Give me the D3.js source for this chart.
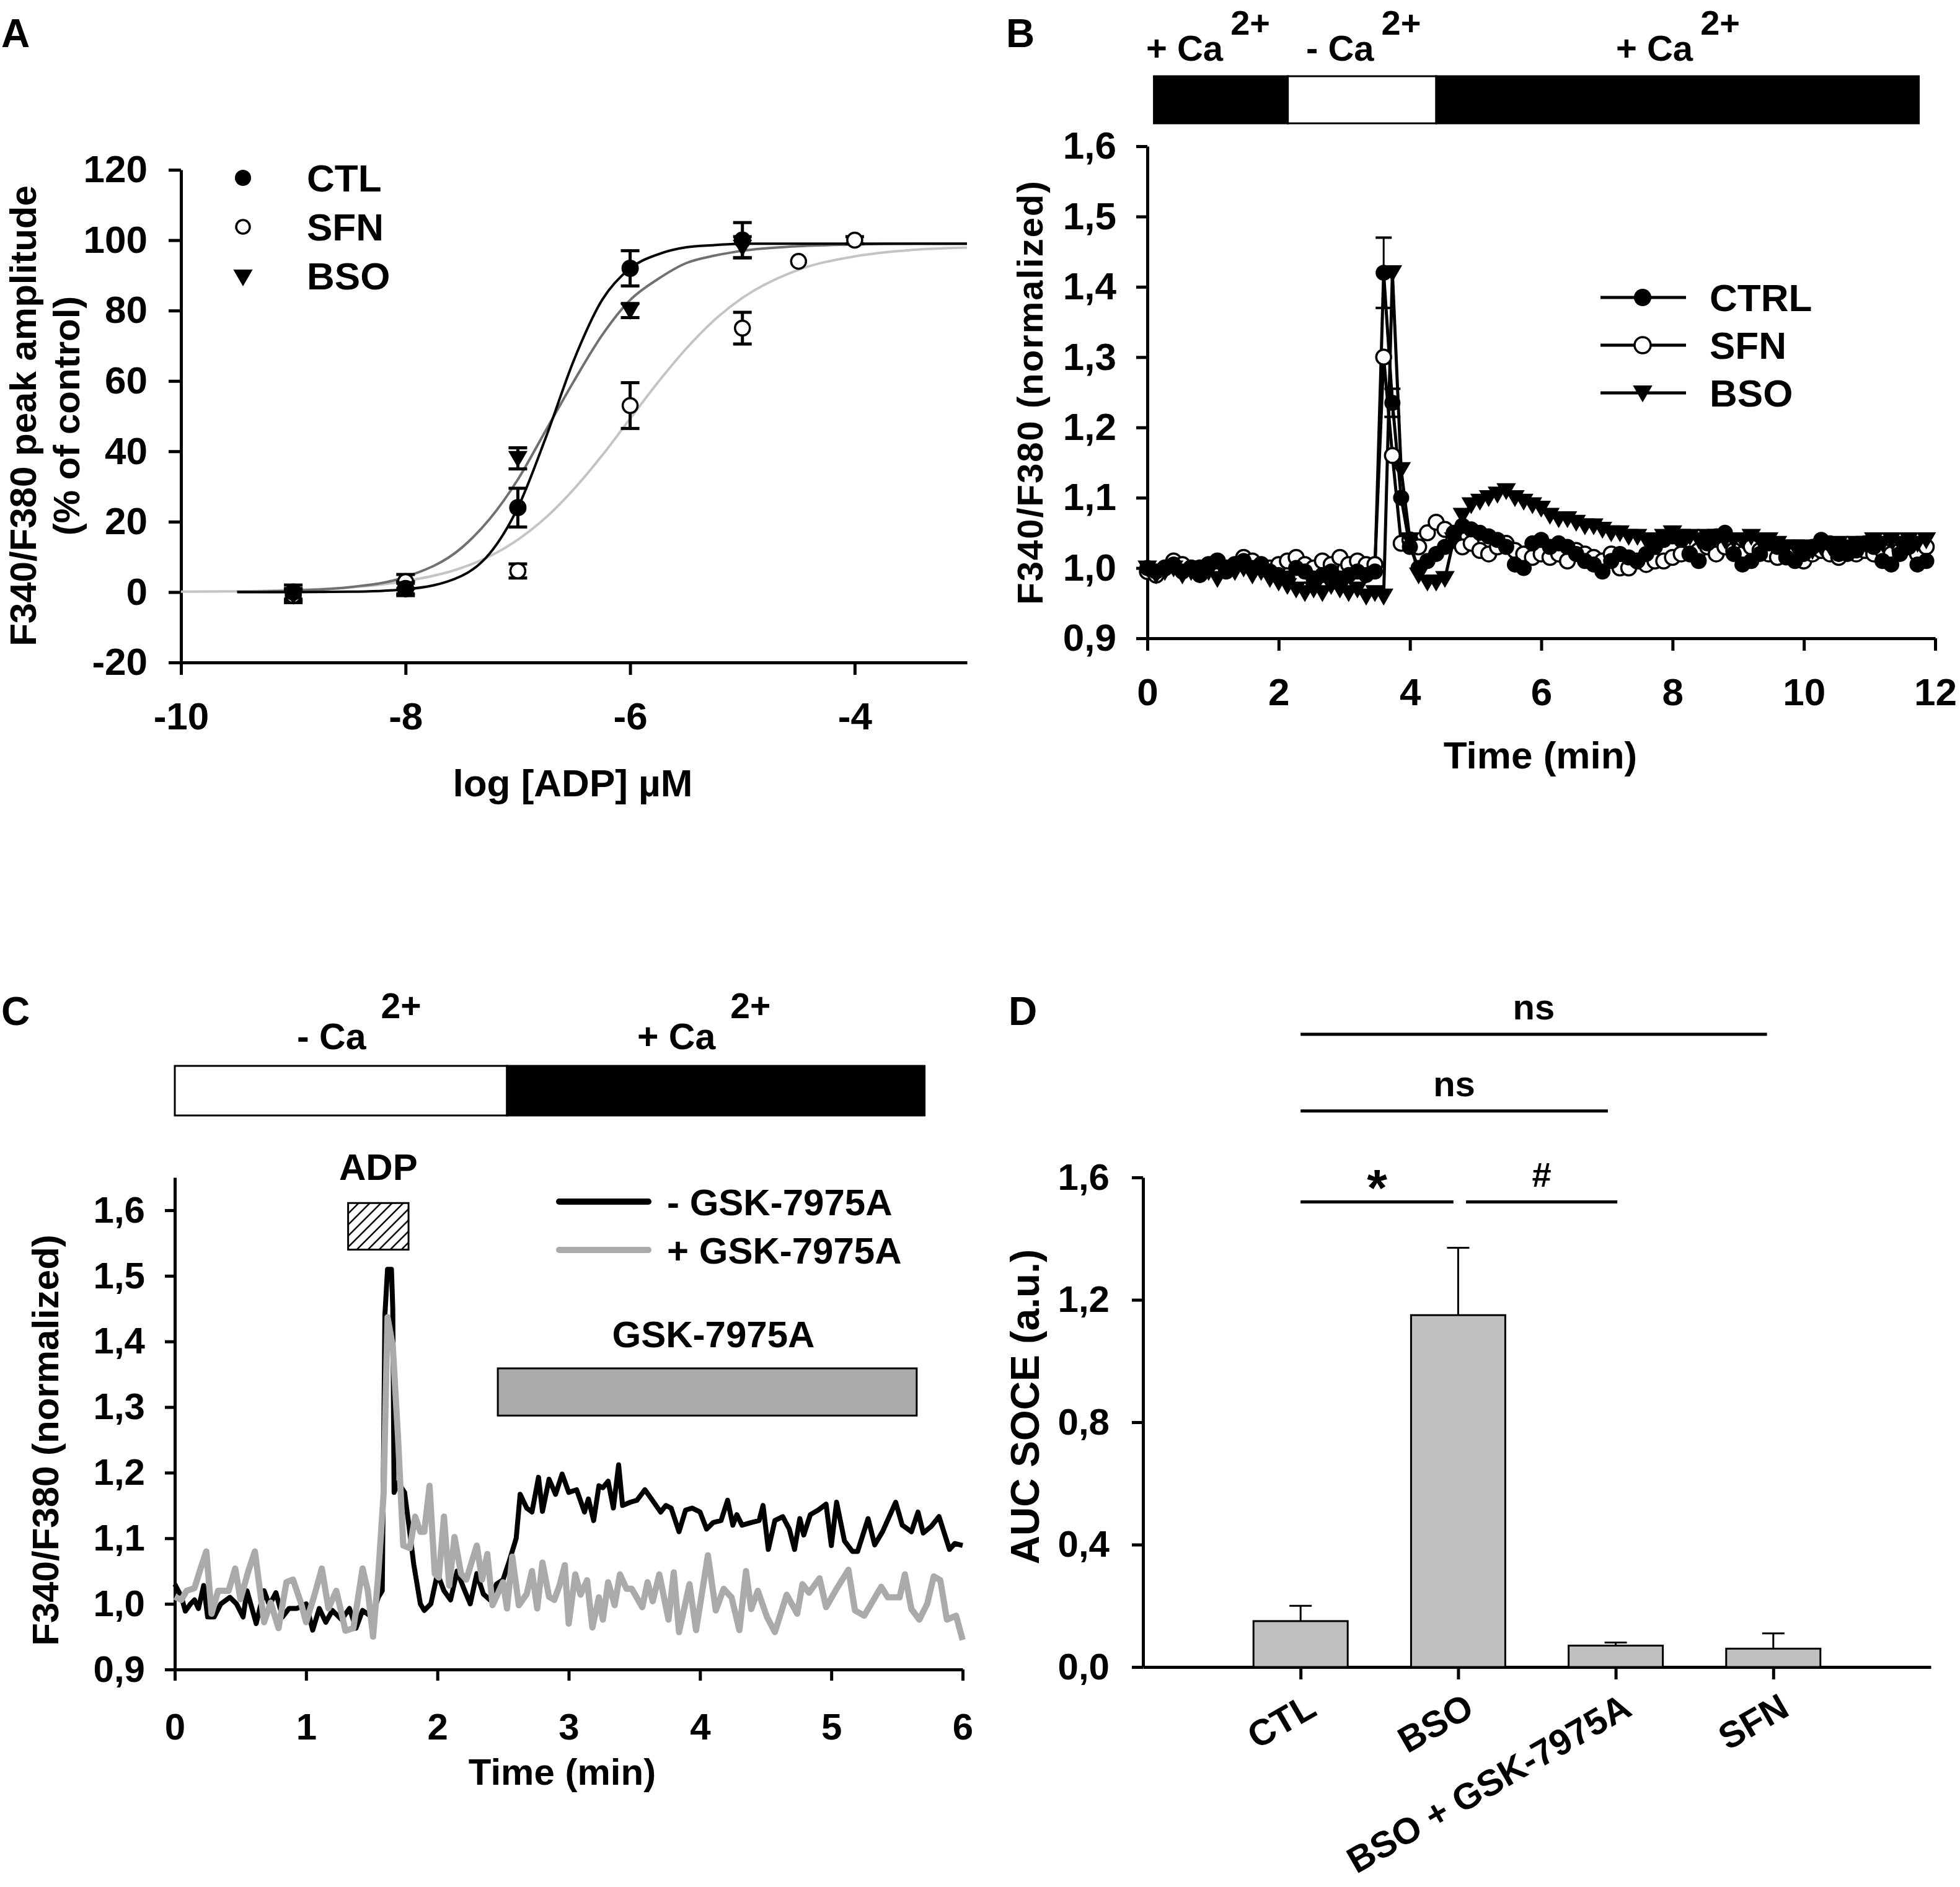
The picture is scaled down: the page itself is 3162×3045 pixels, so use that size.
<!DOCTYPE html>
<html>
<head>
<meta charset="utf-8">
<script src="https://cdn.jsdelivr.net/npm/d3@7"></script>
<style>
body { margin: 0; background: #fff; }
svg text { font-family: "Liberation Sans", Arial, Helvetica, sans-serif; font-weight: bold; fill: #000; }
</style>
</head>
<body>
<svg id="fig" width="3162" height="3045"></svg>
<script>
// ---------------- data ----------------
// A: dose response (log [ADP])
var doseLog = [-9, -8, -7, -6, -5];
var ctlMean = [0, 1, 24, 92, 100];
var ctlErr  = [2, 1.5, 5.5, 5, 5];
var bsoMean = [-1, 1, 38, 80, 98];
var bsoErr  = [2, 2, 3, 2, 3];
var sfnDose = [-9, -8, -7, -6, -5, -4.5, -4];
var sfnMean = [-1, 3, 6, 53, 75, 94, 100];
var sfnErr  = [1.5, 2, 2, 6.5, 4.5, 0, 1];

// A: fitted curves
var fitLog = [-10, -9.5, -9, -8.5, -8, -7.5, -7.25, -7, -6.75, -6.5, -6.25, -6, -5.75, -5.5, -5.25, -5, -4.5, -4, -3.5, -3];
var ctlFit = [null, 0, 0, 0.1, 0.8, 4.6, 11, 24, 44, 66, 83, 92, 96, 98, 98.6, 99, 99, 99, 99, 99];
var bsoFit = [null, 0.1, 0.4, 1.4, 4.3, 12.6, 20.8, 32, 46, 60, 73, 83, 89, 93.5, 95.6, 97, 98.3, 98.8, 99, 99];
var sfnFit = [0.1, 0.2, 0.6, 1.3, 3.1, 6.9, 10.2, 14.9, 21.2, 29.3, 38.8, 49.3, 59.7, 69.2, 77.3, 83.6, 91.6, 95.4, 97.2, 97.9];

// B: traces sampled every 8 s (0.1333 min)
var bStep = 0.1333;
var bCtrl = [1.0, 0.995, 1.0, 1.005, 0.995, 1.0, 0.99, 1.005, 1.01, 0.995, 1.005, 1.01, 1.0, 1.005, 0.995, 0.99, 0.985, 1.0, 0.995, 0.985, 0.99, 0.995, 0.985, 0.99, 0.995, 0.99, 0.995,
  1.42, 1.235, 1.10, 1.03, 1.0, 1.01, 1.02, 1.03, 1.05, 1.06, 1.055, 1.05, 1.045, 1.04, 1.03, 1.005, 1.0, 1.035, 1.04, 1.03, 1.035, 1.03, 1.02, 1.01, 1.005, 0.995, 1.01, 1.02, 1.015, 1.01, 1.02, 1.03, 1.04, 1.045, 1.04, 1.02, 1.01, 1.035, 1.045, 1.05, 1.02, 1.005, 1.01, 1.02, 1.035, 1.03, 1.015, 1.01, 1.02, 1.03, 1.04, 1.035, 1.02, 1.02, 1.025, 1.035, 1.03, 1.01, 1.005, 1.02, 1.03, 1.005, 1.01];
var bSfn = [0.995, 0.99, 1.0, 1.01, 1.005, 1.0, 1.0, 1.005, 1.01, 1.0, 1.005, 1.015, 1.01, 1.005, 1.0, 1.005, 1.01, 1.015, 1.005, 1.0, 1.01, 1.005, 1.015, 1.005, 1.01, 1.005, 1.005,
  1.30, 1.16, 1.035, 1.04, 1.03, 1.05, 1.065, 1.055, 1.04, 1.03, 1.035, 1.025, 1.02, 1.03, 1.035, 1.025, 1.02, 1.015, 1.02, 1.015, 1.02, 1.01, 1.025, 1.02, 1.015, 1.01, 1.02, 1.0, 1.0, 1.01, 1.005, 1.01, 1.01, 1.015, 1.02, 1.02, 1.025, 1.03, 1.02, 1.03, 1.025, 1.02, 1.03, 1.025, 1.02, 1.015, 1.025, 1.02, 1.01, 1.02, 1.025, 1.02, 1.015, 1.025, 1.02, 1.025, 1.02, 1.025, 1.02, 1.025, 1.03, 1.02, 1.03];
var bBso = [1.0, 0.99, 0.995, 1.0, 0.99, 0.995, 1.0, 0.995, 0.985, 1.0, 0.995, 1.0, 0.99, 0.995, 0.985, 0.98, 0.975, 0.97, 0.965, 0.97, 0.965, 0.975, 0.97, 0.965, 0.97, 0.96, 0.965,
  0.96, 1.42, 1.14, 1.04, 0.99, 0.98, 0.98, 0.985, 1.04, 1.075, 1.09, 1.095, 1.1, 1.105, 1.11, 1.1, 1.095, 1.09, 1.085, 1.075, 1.07, 1.07, 1.065, 1.06, 1.06, 1.055, 1.05, 1.05, 1.045, 1.045, 1.04, 1.04, 1.045, 1.05, 1.045, 1.045, 1.04, 1.045, 1.045, 1.04, 1.04, 1.04, 1.045, 1.04, 1.04, 1.035, 1.03, 1.03, 1.03, 1.025, 1.03, 1.03, 1.035, 1.03, 1.035, 1.035, 1.04, 1.035, 1.04, 1.035, 1.04, 1.035, 1.04];
var bErrIndex = [27, 28];
var bCtrlErr = [0.05, 0.02];
// B: perfusion bar (min)
var bBarFrom = [0.1, 2.14, 4.4];
var bBarTo   = [2.14, 4.4, 11.75];
var bBarCa   = ['+', '-', '+'];

// C: traces [min, ratio]
var cMinusGsk = [[0,1.03],[0.05,1.011],[0.08,0.989],[0.12,1.0],[0.15,1.006],[0.18,0.993],[0.22,1.028],[0.25,0.98],[0.3,0.98],[0.35,1.0],[0.42,1.01],[0.47,1.0],[0.52,0.98],[0.55,1.02],[0.62,0.97],[0.68,1.02],[0.72,0.998],[0.77,1.017],[0.82,0.98],[0.87,0.993],[0.93,0.993],[1.0,1.0],[1.05,0.96],[1.1,0.993],[1.15,0.972],[1.2,0.99],[1.27,0.976],[1.33,0.993],[1.38,0.963],[1.43,0.99],[1.5,0.98],[1.55,1.01],[1.58,1.02],[1.6,1.44],[1.62,1.51],[1.65,1.51],[1.66,1.45],[1.67,1.17],[1.7,1.185],[1.75,1.17],[1.78,1.124],[1.82,1.06],[1.87,1.0],[1.9,0.99],[1.95,1.0],[2.0,1.046],[2.05,1.02],[2.1,1.006],[2.15,1.05],[2.2,1.024],[2.25,1.0],[2.3,1.046],[2.35,1.015],[2.4,1.006],[2.45,1.03],[2.5,1.037],[2.55,1.067],[2.6,1.10],[2.63,1.167],[2.68,1.146],[2.72,1.14],[2.77,1.193],[2.8,1.141],[2.85,1.19],[2.9,1.167],[2.95,1.198],[3.0,1.17],[3.06,1.174],[3.12,1.14],[3.15,1.16],[3.19,1.127],[3.23,1.18],[3.26,1.177],[3.3,1.187],[3.34,1.146],[3.38,1.212],[3.41,1.15],[3.47,1.155],[3.52,1.158],[3.58,1.174],[3.63,1.16],[3.7,1.14],[3.74,1.15],[3.78,1.146],[3.84,1.11],[3.89,1.143],[3.94,1.146],[4.0,1.14],[4.05,1.114],[4.1,1.124],[4.16,1.127],[4.21,1.158],[4.25,1.12],[4.28,1.136],[4.32,1.12],[4.39,1.124],[4.45,1.127],[4.48,1.15],[4.52,1.083],[4.57,1.127],[4.63,1.133],[4.68,1.114],[4.72,1.083],[4.76,1.13],[4.79,1.105],[4.84,1.136],[4.9,1.143],[4.96,1.152],[5.0,1.089],[5.04,1.155],[5.1,1.096],[5.16,1.08],[5.2,1.08],[5.28,1.13],[5.33,1.09],[5.39,1.11],[5.49,1.155],[5.54,1.12],[5.61,1.11],[5.66,1.14],[5.7,1.108],[5.76,1.118],[5.82,1.133],[5.9,1.083],[5.94,1.092],[6.0,1.089]];
var cPlusGsk = [[0,1.011],[0.05,1.006],[0.09,1.02],[0.15,1.024],[0.19,1.05],[0.24,1.08],[0.28,0.985],[0.33,1.02],[0.41,1.02],[0.46,1.054],[0.5,1.007],[0.56,1.05],[0.61,1.08],[0.68,0.972],[0.73,1.002],[0.79,0.963],[0.85,1.033],[0.9,1.037],[0.96,1.002],[1.0,0.972],[1.06,1.011],[1.12,1.054],[1.17,0.993],[1.23,1.02],[1.3,0.959],[1.36,0.963],[1.43,1.054],[1.47,1.02],[1.51,0.95],[1.55,1.046],[1.59,1.167],[1.62,1.437],[1.66,1.393],[1.7,1.254],[1.74,1.089],[1.79,1.085],[1.83,1.133],[1.87,1.11],[1.9,1.11],[1.94,1.18],[1.98,1.046],[2.01,1.04],[2.05,1.133],[2.09,1.028],[2.13,1.102],[2.18,1.046],[2.22,1.037],[2.3,1.089],[2.34,1.037],[2.38,1.076],[2.42,0.998],[2.5,1.033],[2.53,0.993],[2.57,1.072],[2.62,0.998],[2.68,1.015],[2.72,1.05],[2.76,0.993],[2.8,1.063],[2.85,1.011],[2.89,1.006],[2.93,1.028],[2.97,1.059],[3.0,0.97],[3.05,1.045],[3.09,1.014],[3.14,1.036],[3.18,0.964],[3.23,1.01],[3.26,0.976],[3.3,1.033],[3.35,0.998],[3.39,1.045],[3.44,1.023],[3.48,1.023],[3.56,0.995],[3.6,1.033],[3.64,1.004],[3.69,1.045],[3.76,0.976],[3.8,1.048],[3.84,0.957],[3.92,1.03],[3.97,0.96],[4.06,1.074],[4.12,0.99],[4.18,1.023],[4.24,1.01],[4.3,0.96],[4.35,1.05],[4.39,0.992],[4.44,1.02],[4.51,0.98],[4.57,0.957],[4.66,1.014],[4.74,0.985],[4.78,1.03],[4.83,1.017],[4.91,1.039],[4.96,0.995],[5.04,1.023],[5.13,1.052],[5.18,0.99],[5.25,0.982],[5.38,1.026],[5.43,1.01],[5.52,1.01],[5.56,1.045],[5.61,0.992],[5.67,0.976],[5.73,1.0],[5.78,1.042],[5.83,1.036],[5.88,0.976],[5.95,0.982],[6.0,0.945]];
var cBarFrom = [0, 2.53];
var cBarTo   = [2.53, 5.71];
var cBarCa   = ['-', '+'];
var adpWindow = [1.32, 1.78];
var gskWindow = [2.46, 5.65];

// D: AUC of SOCE
var dGroups = ['CTL', 'BSO', 'BSO + GSK-7975A', 'SFN'];
var dMean = [0.15, 1.15, 0.07, 0.06];
var dErr  = [0.05, 0.22, 0.01, 0.05];
var dCompFrom  = [1, 2.05, 1, 1];
var dCompTo    = [1.97, 3.01, 2.95, 3.96];
var dCompLabel = ['*', '#', 'ns', 'ns'];

// ---------------- helpers ----------------
var svg = d3.select('#fig');
svg.append('rect').attr('width', 3162).attr('height', 3045).attr('fill', '#fff');

var FONT = '"Liberation Sans", Arial, Helvetica, sans-serif';
var comma1 = function(d){ return d3.format('.1f')(d).replace('.', ','); };

function styleAxis(g, size){
  g.attr('font-family', FONT).attr('font-size', size).attr('font-weight', 'bold');
  g.select('.domain').attr('stroke', '#000').attr('stroke-width', 5);
  g.selectAll('.tick line').attr('stroke', '#000').attr('stroke-width', 5);
}

function panelLetter(t, x, y){
  svg.append('text').attr('x', x).attr('y', y).attr('font-size', 64).text(t);
}

function caLabel(g, x, y, sign, size, gap, rise){
  var t = g.append('text').attr('x', x).attr('y', y).attr('font-size', size);
  t.append('tspan').text(sign + ' Ca');
  t.append('tspan').attr('dx', gap).attr('dy', -rise).attr('font-size', size - 2).text('2+');
}

var triDown = d3.symbol().type(d3.symbolTriangle).size(420);

// ---------------- Panel A ----------------
panelLetter('A', 2, 76);
var ax = d3.scaleLinear().domain([-10, -3]).range([292, 1560]);
var ay = d3.scaleLinear().domain([-20, 120]).range([1069, 274]);
var gA = svg.append('g');

gA.append('g').attr('transform', 'translate(0,1069)')
  .call(d3.axisBottom(ax).tickValues([-10, -8, -6, -4]).tickFormat(function(d){ return String(d); })
        .tickSize(20).tickPadding(44).tickSizeOuter(0))
  .call(styleAxis, 62);
gA.append('g').attr('transform', 'translate(292,0)')
  .call(d3.axisLeft(ay).tickValues(d3.range(-20, 121, 20)).tickFormat(function(d){ return String(d); })
        .tickSize(20).tickPadding(34).tickSizeOuter(0))
  .call(styleAxis, 62);

var fitLine = d3.line()
  .defined(function(d){ return d[1] !== null; })
  .x(function(d){ return ax(d[0]); })
  .y(function(d){ return ay(d[1]); })
  .curve(d3.curveMonotoneX);
[[sfnFit, '#c4c4c4'], [bsoFit, '#707070'], [ctlFit, '#000']].forEach(function(f){
  gA.append('path')
    .attr('d', fitLine(fitLog.map(function(x, i){ return [x, f[0][i]]; })))
    .attr('fill', 'none').attr('stroke', f[1]).attr('stroke-width', 4);
});

function errBarsA(xs, ms, es){
  xs.forEach(function(x, i){
    if (!es[i]) return;
    var px = ax(x), y0 = ay(ms[i] - es[i]), y1 = ay(ms[i] + es[i]);
    gA.append('line').attr('x1', px).attr('x2', px).attr('y1', y0).attr('y2', y1).attr('stroke', '#000').attr('stroke-width', 5);
    [y0, y1].forEach(function(y){
      gA.append('line').attr('x1', px - 15).attr('x2', px + 15).attr('y1', y).attr('y2', y).attr('stroke', '#000').attr('stroke-width', 5);
    });
  });
}
errBarsA(sfnDose, sfnMean, sfnErr);
errBarsA(doseLog, bsoMean, bsoErr);
errBarsA(doseLog, ctlMean, ctlErr);

gA.selectAll('.sfnPt').data(sfnDose).enter().append('circle')
  .attr('cx', function(d){ return ax(d); }).attr('cy', function(d, i){ return ay(sfnMean[i]); })
  .attr('r', 12).attr('fill', '#fff').attr('stroke', '#000').attr('stroke-width', 3.5);
gA.selectAll('.bsoPt').data(doseLog).enter().append('path')
  .attr('d', triDown)
  .attr('transform', function(d, i){ return 'translate(' + ax(d) + ',' + (ay(bsoMean[i]) - 3) + ') rotate(180)'; })
  .attr('fill', '#000');
gA.selectAll('.ctlPt').data(doseLog).enter().append('circle')
  .attr('cx', function(d){ return ax(d); }).attr('cy', function(d, i){ return ay(ctlMean[i]); })
  .attr('r', 14).attr('fill', '#000');

// legend A
var legA = gA.append('g');
legA.append('circle').attr('cx', 392).attr('cy', 287).attr('r', 13).attr('fill', '#000');
legA.append('circle').attr('cx', 392).attr('cy', 366).attr('r', 11).attr('fill', '#fff').attr('stroke', '#000').attr('stroke-width', 3.5);
legA.append('path').attr('d', triDown).attr('transform', 'translate(392,444) rotate(180)').attr('fill', '#000');
['CTL', 'SFN', 'BSO'].forEach(function(t, i){
  legA.append('text').attr('x', 495).attr('y', 287 + i * 79).attr('dy', '0.36em').attr('font-size', 62).text(t);
});

gA.append('text').attr('x', 924).attr('y', 1285).attr('text-anchor', 'middle').attr('font-size', 62).text('log [ADP] \u00b5M');
gA.append('text').attr('transform', 'translate(58,671) rotate(-90)').attr('text-anchor', 'middle').attr('font-size', 60).text('F340/F380 peak amplitude');
gA.append('text').attr('transform', 'translate(128,671) rotate(-90)').attr('text-anchor', 'middle').attr('font-size', 60).text('(% of control)');

// ---------------- Panel B ----------------
panelLetter('B', 1623, 76);
var bx = d3.scaleLinear().domain([0, 12]).range([1851, 3122]);
var by = d3.scaleLinear().domain([0.9, 1.6]).range([1030, 236]);
var gB = svg.append('g');

gB.selectAll('.bbar').data(bBarFrom).enter().append('rect')
  .attr('x', function(d){ return bx(d); }).attr('y', 123)
  .attr('width', function(d, i){ return bx(bBarTo[i]) - bx(d); }).attr('height', 76)
  .attr('fill', function(d, i){ return bBarCa[i] === '+' ? '#000' : '#fff'; })
  .attr('stroke', '#000').attr('stroke-width', 3);
caLabel(gB, 1849, 98, '+', 58, 12, 42);
caLabel(gB, 2107, 98, '-', 58, 12, 42);
caLabel(gB, 2607, 98, '+', 58, 12, 42);

gB.append('g').attr('transform', 'translate(0,1030)')
  .call(d3.axisBottom(bx).tickValues(d3.range(0, 13, 2)).tickFormat(function(d){ return String(d); })
        .tickSize(20).tickPadding(44).tickSizeOuter(0))
  .call(styleAxis, 62);
gB.append('g').attr('transform', 'translate(1851,0)')
  .call(d3.axisLeft(by).tickValues(d3.range(9, 17).map(function(v){ return v / 10; })).tickFormat(comma1)
        .tickSize(18).tickPadding(32).tickSizeOuter(0))
  .call(styleAxis, 62);

var bLine = d3.line()
  .x(function(d, i){ return bx(i * bStep); })
  .y(function(d){ return by(d); });
[bSfn, bCtrl, bBso].forEach(function(s){
  gB.append('path').attr('d', bLine(s)).attr('fill', 'none').attr('stroke', '#000').attr('stroke-width', 5);
});
bErrIndex.forEach(function(k, j){
  var px = bx(k * bStep), y0 = by(bCtrl[k] - bCtrlErr[j]), y1 = by(bCtrl[k] + bCtrlErr[j]);
  gB.append('line').attr('x1', px).attr('x2', px).attr('y1', y0).attr('y2', y1).attr('stroke', '#000').attr('stroke-width', 3);
  [y0, y1].forEach(function(y){
    gB.append('line').attr('x1', px - 13).attr('x2', px + 13).attr('y1', y).attr('y2', y).attr('stroke', '#000').attr('stroke-width', 4);
  });
});
gB.selectAll('.bSfn').data(bSfn).enter().append('circle')
  .attr('cx', function(d, i){ return bx(i * bStep); }).attr('cy', function(d){ return by(d); })
  .attr('r', 12).attr('fill', '#fff').attr('stroke', '#000').attr('stroke-width', 3.5);
gB.selectAll('.bCtrl').data(bCtrl).enter().append('circle')
  .attr('cx', function(d, i){ return bx(i * bStep); }).attr('cy', function(d){ return by(d); })
  .attr('r', 13).attr('fill', '#000');
var triB = d3.symbol().type(d3.symbolTriangle).size(430);
gB.selectAll('.bBso').data(bBso).enter().append('path')
  .attr('d', triB)
  .attr('transform', function(d, i){ return 'translate(' + bx(i * bStep) + ',' + (by(d) - 3) + ') rotate(180)'; })
  .attr('fill', '#000');

// legend B
var legB = gB.append('g');
['CTRL', 'SFN', 'BSO'].forEach(function(t, i){
  var y = 480 + i * 77;
  legB.append('line').attr('x1', 2582).attr('x2', 2720).attr('y1', y).attr('y2', y).attr('stroke', '#000').attr('stroke-width', 5);
  legB.append('text').attr('x', 2758).attr('y', y).attr('dy', '0.36em').attr('font-size', 62).text(t);
});
legB.append('circle').attr('cx', 2650).attr('cy', 480).attr('r', 14).attr('fill', '#000');
legB.append('circle').attr('cx', 2650).attr('cy', 557).attr('r', 13).attr('fill', '#fff').attr('stroke', '#000').attr('stroke-width', 3.5);
legB.append('path').attr('d', triB).attr('transform', 'translate(2650,631) rotate(180)').attr('fill', '#000');

gB.append('text').attr('x', 2485).attr('y', 1240).attr('text-anchor', 'middle').attr('font-size', 62).text('Time (min)');
gB.append('text').attr('transform', 'translate(1682,633) rotate(-90)').attr('text-anchor', 'middle')
  .attr('font-size', 58).attr('letter-spacing', 2).text('F340/F380 (normalized)');

// ---------------- Panel C ----------------
panelLetter('C', 2, 1654);
var cx = d3.scaleLinear().domain([0, 6]).range([282, 1553]);
var cy = d3.scaleLinear().domain([0.9, 1.65]).range([2694, 1900]);
var gC = svg.append('g');

gC.selectAll('.cbar').data(cBarFrom).enter().append('rect')
  .attr('x', function(d){ return cx(d); }).attr('y', 1720)
  .attr('width', function(d, i){ return cx(cBarTo[i]) - cx(d); }).attr('height', 80)
  .attr('fill', function(d, i){ return cBarCa[i] === '+' ? '#000' : '#fff'; })
  .attr('stroke', '#000').attr('stroke-width', 3);
caLabel(gC, 479, 1693, '-', 59, 24, 50);
caLabel(gC, 1028, 1693, '+', 59, 24, 50);

gC.append('g').attr('transform', 'translate(0,2694)')
  .call(d3.axisBottom(cx).tickValues(d3.range(0, 7)).tickFormat(function(d){ return String(d); })
        .tickSize(18).tickPadding(52).tickSizeOuter(0))
  .call(styleAxis, 60);
gC.append('g').attr('transform', 'translate(282,0)')
  .call(d3.axisLeft(cy).tickValues(d3.range(9, 17).map(function(v){ return v / 10; })).tickFormat(comma1)
        .tickSize(16).tickPadding(32).tickSizeOuter(0))
  .call(styleAxis, 60);

// ADP hatched box
var defs = svg.append('defs');
defs.append('pattern').attr('id', 'hatch').attr('patternUnits', 'userSpaceOnUse').attr('width', 18).attr('height', 18)
  .append('path').attr('d', 'M-4,4 l8,-8 M0,18 l18,-18 M14,22 l8,-8').attr('stroke', '#000').attr('stroke-width', 2.5);
gC.append('rect').attr('x', cx(adpWindow[0])).attr('y', cy(1.611))
  .attr('width', cx(adpWindow[1]) - cx(adpWindow[0])).attr('height', cy(1.54) - cy(1.611))
  .attr('fill', 'url(#hatch)').attr('stroke', '#000').attr('stroke-width', 3);
gC.append('text').attr('x', cx(d3.mean(adpWindow))).attr('y', 1904).attr('text-anchor', 'middle').attr('font-size', 60).text('ADP');

// GSK bar
gC.append('rect').attr('x', cx(gskWindow[0])).attr('y', cy(1.359))
  .attr('width', cx(gskWindow[1]) - cx(gskWindow[0])).attr('height', cy(1.287) - cy(1.359))
  .attr('fill', '#aaaaaa').attr('stroke', '#000').attr('stroke-width', 3);
gC.append('text').attr('x', cx(d3.mean(gskWindow)) + 10).attr('y', 2174).attr('text-anchor', 'middle').attr('font-size', 60).text('GSK-7975A');

var cLine = d3.line().x(function(d){ return cx(d[0]); }).y(function(d){ return cy(d[1]); });
gC.append('path').attr('d', cLine(cMinusGsk)).attr('fill', 'none').attr('stroke', '#000')
  .attr('stroke-width', 8).attr('stroke-linejoin', 'round');
gC.append('path').attr('d', cLine(cPlusGsk)).attr('fill', 'none').attr('stroke', '#aaaaaa')
  .attr('stroke-width', 10).attr('stroke-linejoin', 'round');

// legend C
[['- GSK-7975A', '#000'], ['+ GSK-7975A', '#aaaaaa']].forEach(function(l, i){
  var y = 1939 + i * 78;
  gC.append('line').attr('x1', 902).attr('x2', 1046).attr('y1', y).attr('y2', y)
    .attr('stroke', l[1]).attr('stroke-width', 10).attr('stroke-linecap', 'round');
  gC.append('text').attr('x', 1076).attr('y', y).attr('dy', '0.36em').attr('font-size', 60).text(l[0]);
});

gC.append('text').attr('x', 907).attr('y', 2880).attr('text-anchor', 'middle').attr('font-size', 60).text('Time (min)');
gC.append('text').attr('transform', 'translate(94,2324) rotate(-90)').attr('text-anchor', 'middle').attr('font-size', 60).text('F340/F380 (normalized)');

// ---------------- Panel D ----------------
panelLetter('D', 1627, 1654);
var dx = d3.scaleLinear().domain([0, 5]).range([1844, 3115]);
var dy = d3.scaleLinear().domain([0, 1.6]).range([2690, 1900]);
var gD = svg.append('g');
var barW = 152;

gD.append('g').attr('transform', 'translate(0,2690)')
  .call(d3.axisBottom(dx).tickValues([1, 2, 3, 4]).tickFormat('').tickSize(20).tickSizeOuter(0))
  .call(styleAxis, 60);
gD.append('g').attr('transform', 'translate(1844,0)')
  .call(d3.axisLeft(dy).tickValues([0, 0.4, 0.8, 1.2, 1.6]).tickFormat(comma1)
        .tickSize(18).tickPadding(36).tickSizeOuter(0))
  .call(styleAxis, 60);

gD.selectAll('.derr').data(dMean).enter().append('line')
  .attr('x1', function(d, i){ return dx(i + 1); }).attr('x2', function(d, i){ return dx(i + 1); })
  .attr('y1', function(d){ return dy(d); }).attr('y2', function(d, i){ return dy(d + dErr[i]); })
  .attr('stroke', '#000').attr('stroke-width', 3);
gD.selectAll('.dcap').data(dMean).enter().append('line')
  .attr('x1', function(d, i){ return dx(i + 1) - 18; }).attr('x2', function(d, i){ return dx(i + 1) + 18; })
  .attr('y1', function(d, i){ return dy(d + dErr[i]); }).attr('y2', function(d, i){ return dy(d + dErr[i]); })
  .attr('stroke', '#000').attr('stroke-width', 3);
gD.selectAll('.dbar').data(dMean).enter().append('rect')
  .attr('x', function(d, i){ return dx(i + 1) - barW / 2; }).attr('width', barW)
  .attr('y', function(d){ return dy(d); }).attr('height', function(d){ return dy(0) - dy(d); })
  .attr('fill', '#c0c0c0').attr('stroke', '#000').attr('stroke-width', 3);

gD.selectAll('.dlab').data(dGroups).enter().append('text')
  .attr('transform', function(d, i){ return 'translate(' + (dx(i + 1) + 8) + ',2730) rotate(-30)'; })
  .attr('text-anchor', 'end').attr('dy', '0.71em').attr('font-size', 59)
  .text(function(d){ return d; });

// significance brackets
var dCompLevel = [1.52, 1.52, 1.817, 2.068];
dCompLabel.forEach(function(lab, i){
  var y = dy(dCompLevel[i]);
  gD.append('line').attr('x1', dx(dCompFrom[i])).attr('x2', dx(dCompTo[i])).attr('y1', y).attr('y2', y)
    .attr('stroke', '#000').attr('stroke-width', 5);
  var t = gD.append('text').attr('x', (dx(dCompFrom[i]) + dx(dCompTo[i])) / 2).attr('text-anchor', 'middle');
  if (lab === '*') t.attr('y', y + 6).attr('font-size', 84);
  else if (lab === '#') t.attr('y', y - 25).attr('font-size', 56);
  else t.attr('y', y - 24).attr('font-size', 58);
  t.text(lab);
});

gD.append('text').attr('transform', 'translate(1676,2270) rotate(-90)').attr('text-anchor', 'middle').attr('font-size', 64).text('AUC SOCE (a.u.)');
</script>
</body>
</html>
